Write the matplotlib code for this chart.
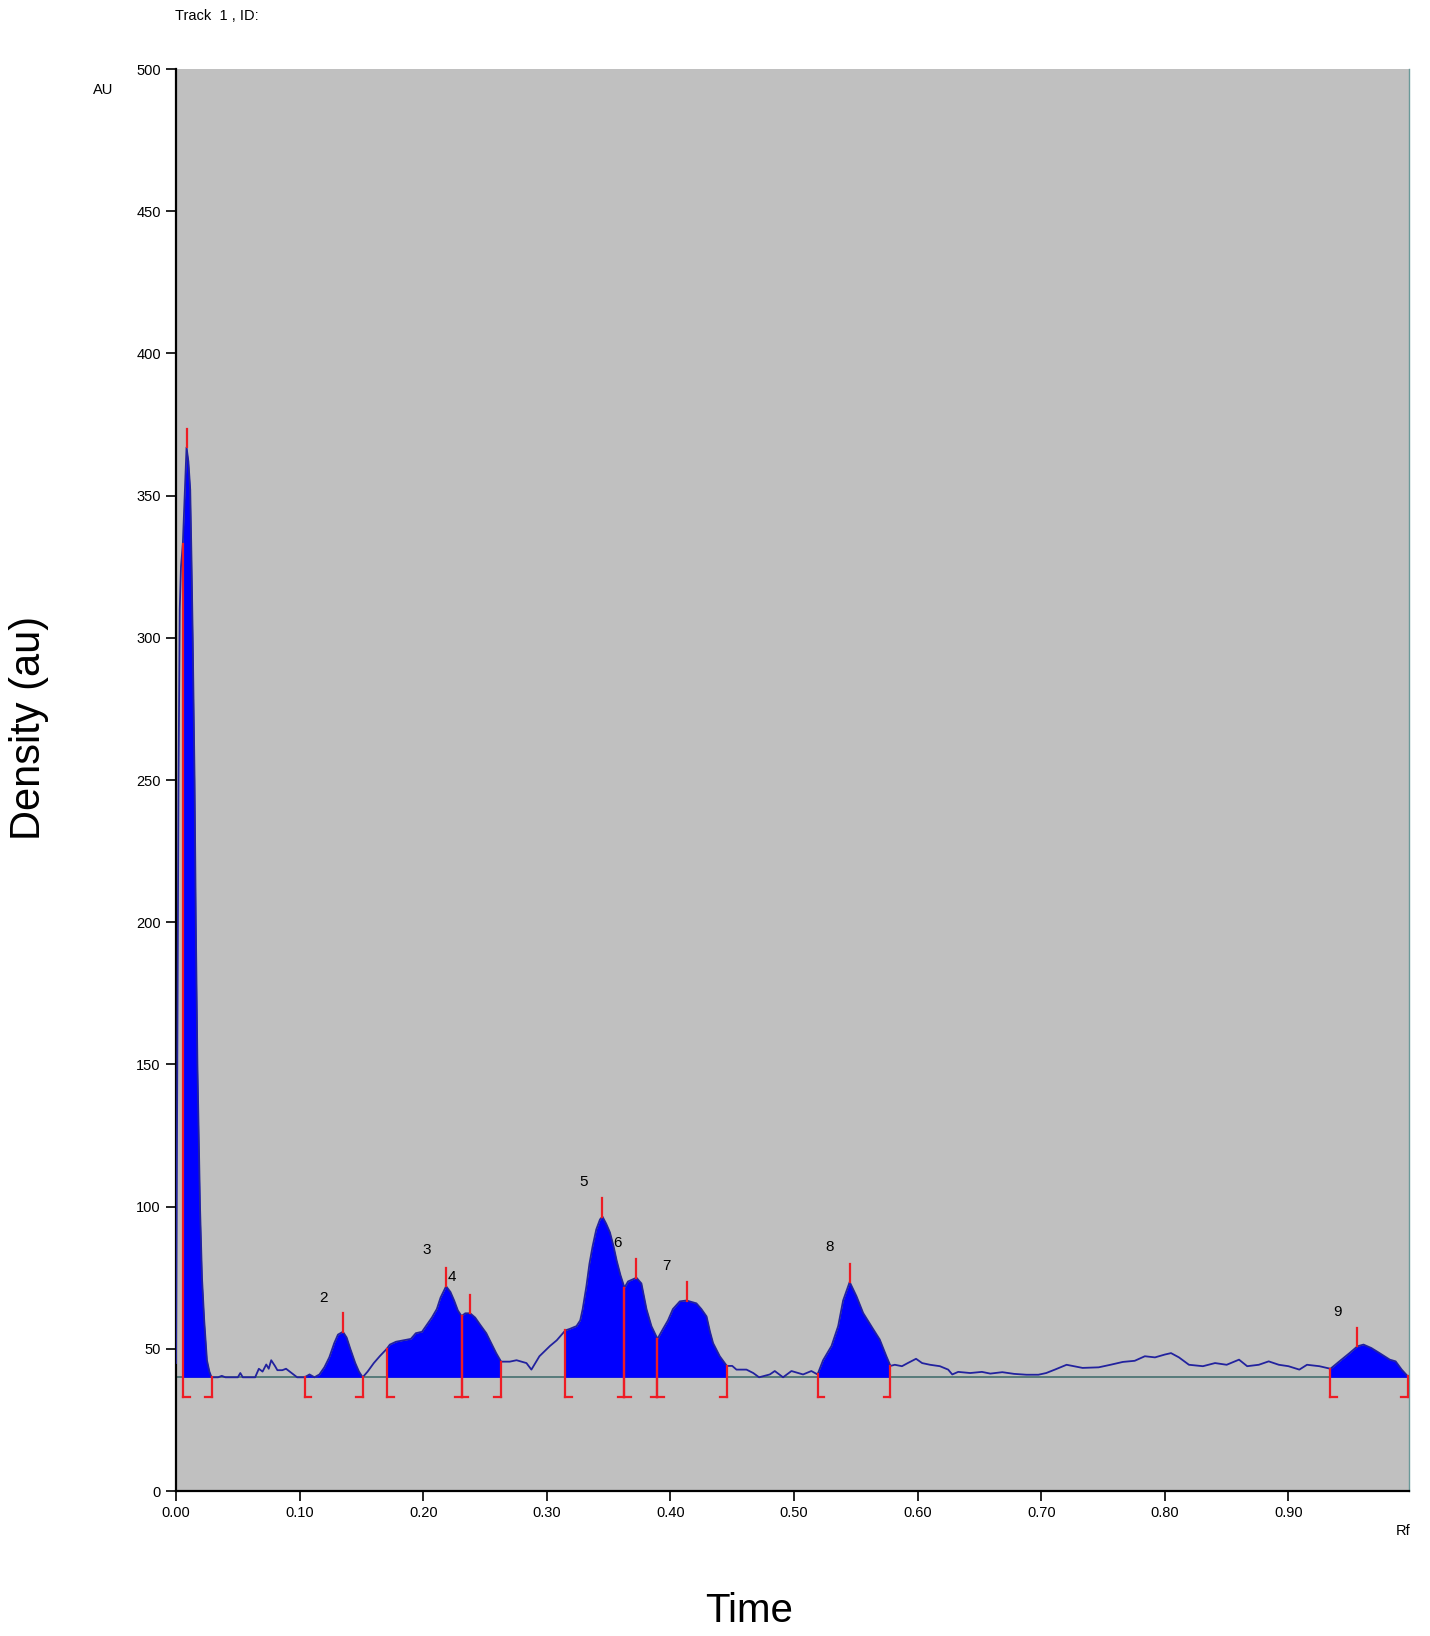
"""
plot.py

Densitometry scan of one TLC track: the blue trace is the density read
along the plate (Rf), the filled parts are the integrated peaks, red
brackets mark the integration limits and red ticks mark each maximum.
"""

import numpy as np
import matplotlib
matplotlib.use("Agg")
import matplotlib.pyplot as plt

plt.rcParams["font.family"] = ["Liberation Sans", "DejaVu Sans"]

# ---------------------------------------------------------------------------
# Data
# ---------------------------------------------------------------------------

RF = [
    0.000, 0.001, 0.002, 0.003, 0.004, 0.0055, 0.007, 0.0085, 0.010, 0.0115,
    0.0125, 0.0135, 0.015, 0.016, 0.0173, 0.0194, 0.021, 0.0228, 0.025, 0.027,
    0.0287, 0.034, 0.037, 0.040, 0.050, 0.052, 0.054, 0.064, 0.067, 0.070,
    0.073, 0.075, 0.077, 0.080, 0.082, 0.086, 0.089, 0.092, 0.095, 0.098,
    0.104, 0.108, 0.112, 0.116, 0.120, 0.124, 0.128, 0.131, 0.135, 0.138,
    0.141, 0.145, 0.148, 0.151, 0.155, 0.160, 0.165, 0.1705, 0.173, 0.178,
    0.184, 0.190, 0.194, 0.199, 0.203, 0.207, 0.211, 0.214, 0.2185, 0.222,
    0.225, 0.228, 0.231, 0.234, 0.238, 0.242, 0.246, 0.251, 0.255, 0.259,
    0.263, 0.270, 0.2755, 0.2835, 0.2875, 0.294, 0.3025, 0.308, 0.312, 0.315,
    0.3185, 0.324, 0.327, 0.329, 0.332, 0.3345, 0.337, 0.340, 0.343, 0.345,
    0.348, 0.351, 0.354, 0.3565, 0.3595, 0.3628, 0.3657, 0.3725, 0.3765, 0.3806,
    0.3846, 0.3895, 0.394, 0.398, 0.402, 0.4076, 0.413, 0.417, 0.421, 0.425,
    0.4292, 0.432, 0.4345, 0.4399, 0.4456, 0.450, 0.4534, 0.4615, 0.467, 0.4717,
    0.4804, 0.4844, 0.4911, 0.4979, 0.5073, 0.514, 0.519, 0.5235, 0.5303, 0.5357,
    0.5397, 0.545, 0.5505, 0.5559, 0.5639, 0.5693, 0.5747, 0.578, 0.5815, 0.5873,
    0.592, 0.5987, 0.6036, 0.610, 0.618, 0.6247, 0.628, 0.6328, 0.6425, 0.652,
    0.6588, 0.6685, 0.678, 0.688, 0.6977, 0.704, 0.711, 0.7205, 0.7334, 0.7464,
    0.756, 0.766, 0.7756, 0.7838, 0.792, 0.800, 0.805, 0.8114, 0.8195, 0.8308,
    0.8406, 0.850, 0.860, 0.8666, 0.876, 0.884, 0.8922, 0.900, 0.9088, 0.915,
    0.925, 0.934, 0.9412, 0.9494, 0.9558, 0.9607, 0.967, 0.9737, 0.982, 0.9867,
    0.9916, 0.9964,
]

DENSITY = [
    45, 150, 250, 310, 325, 333, 350, 367, 362, 352,
    328, 300, 250, 200, 150, 100, 75, 60, 46, 42,
    40, 40, 40.5, 40, 40, 41.5, 40, 40, 43, 42,
    44.5, 43, 46, 44, 42.5, 42.5, 43, 42, 41, 40,
    40, 41, 40, 41, 43.5, 47, 52, 55, 56, 54,
    50, 45, 42, 40, 42, 45, 47.5, 50, 51.5, 52.5,
    53, 53.5, 55.5, 56, 58.5, 61, 64, 68, 72, 70,
    67, 63.5, 61.5, 62.5, 62.5, 61, 58.5, 55.5, 52, 48.5,
    45.5, 45.5, 46, 45, 42.7, 47.4, 51, 53, 55, 56.5,
    57, 58, 60, 64, 72, 80, 86, 92, 95.5, 96.5,
    94, 91, 86, 81, 76, 71.5, 73.7, 75, 73, 64,
    58, 53.5, 57, 60, 64, 66.7, 67, 66.5, 66, 64,
    61.4, 56, 52, 47.4, 44, 44, 42.7, 42.7, 41.5, 40,
    41, 42.2, 40, 42.2, 41, 42.2, 41, 46, 51, 58,
    67, 73.5, 68.5, 62.6, 57, 53.3, 47.4, 44, 44.4, 43.9,
    45, 46.5, 45, 44.4, 43.9, 42.7, 41, 41.9, 41.5, 41.9,
    41.3, 41.8, 41.2, 40.9, 40.9, 41.5, 42.7, 44.4, 43.3, 43.5,
    44.4, 45.4, 45.8, 47.4, 47, 48, 48.5, 47, 44.4, 43.9,
    45, 44.4, 46.2, 43.9, 44.4, 45.6, 44.4, 43.9, 42.7, 44.4,
    43.9, 43, 45.6, 48.5, 50.9, 51.5, 50.3, 48.5, 46.2, 45.6,
    42.7, 40.4,
]

BASELINE = 40

# Integration limits of each peak (start, end) and the Rf of its maximum
PEAK_START = [0.0055, 0.104, 0.1705, 0.231, 0.315, 0.3628, 0.3895, 0.519, 0.934]
PEAK_END = [0.0287, 0.151, 0.231, 0.263, 0.3628, 0.3895, 0.4456, 0.578, 0.9964]
PEAK_MAX_RF = [0.0085, 0.135, 0.2185, 0.238, 0.345, 0.3725, 0.413, 0.545, 0.9558]

# Peak numbers written on the plot (peak 1 carries none)
LABELS = ["2", "3", "4", "5", "6", "7", "8", "9"]
LABEL_RF = [0.119, 0.2025, 0.223, 0.330, 0.357, 0.397, 0.529, 0.940]
LABEL_AU = [68, 84.7, 75.1, 108.5, 87.2, 79.2, 85.8, 63]

Y_TICKS = list(range(0, 501, 50))
X_TICKS = [0.0, 0.1, 0.2, 0.3, 0.4, 0.5, 0.6, 0.7, 0.8, 0.9]

# ---------------------------------------------------------------------------
# Styling
# ---------------------------------------------------------------------------

PLATE_GREY = "#c0c0c0"
FILL_BLUE = "#0000ff"
TRACE_BLUE = "#22229e"
BASELINE_COLOR = "#4f7575"
MARK_RED = "#ee1c24"

BRACKET_BOTTOM = 33      # AU, where the bracket feet sit
BRACKET_FOOT = 0.0055    # Rf, foot length
MAX_TICK = 6.5           # AU, height of the red tick above a maximum


def plot_scan(save_path: str = "out.png") -> None:
    rf = np.array(RF)
    au = np.array(DENSITY)

    fig = plt.figure(figsize=(14.3, 16.36), dpi=100)
    ax = fig.add_axes([0.1231, 0.0886, 0.8622, 0.8692])
    ax.set_facecolor(PLATE_GREY)

    # baseline under everything
    ax.axhline(BASELINE, color=BASELINE_COLOR, linewidth=1.3, zorder=1)

    # integrated areas
    for start, end in zip(PEAK_START, PEAK_END):
        inside = (rf >= start - 1e-9) & (rf <= end + 1e-9)
        ax.fill_between(rf[inside], BASELINE, au[inside],
                        color=FILL_BLUE, linewidth=0, zorder=2)

    # raw trace, on top so the fills get a dark edge
    ax.plot(rf, au, color=TRACE_BLUE, linewidth=1.3, zorder=3)

    # integration brackets: "[" at a start, "]" at an end
    for start, end in zip(PEAK_START, PEAK_END):
        for x, side in ((start, 1), (end, -1)):
            top = np.interp(x, rf, au)
            ax.plot([x, x], [BRACKET_BOTTOM, top], color=MARK_RED,
                    linewidth=1.6, zorder=4)
            ax.plot([x, x + side * BRACKET_FOOT], [BRACKET_BOTTOM, BRACKET_BOTTOM],
                    color=MARK_RED, linewidth=1.6, zorder=4)

    # maxima ticks
    for x in PEAK_MAX_RF:
        top = np.interp(x, rf, au)
        ax.plot([x, x], [top, top + MAX_TICK], color=MARK_RED,
                linewidth=1.6, zorder=4)

    for text, x, y in zip(LABELS, LABEL_RF, LABEL_AU):
        ax.text(x, y, text, fontsize=11, ha="center", va="center", zorder=5)

    ax.set_xlim(0, 0.9975)
    ax.set_ylim(0, 500)
    ax.set_yticks(Y_TICKS)
    ax.set_xticks(X_TICKS)
    ax.set_xticklabels([f"{t:.2f}" for t in X_TICKS])
    ax.tick_params(axis="both", direction="out", length=7, width=1.2,
                   labelsize=10.5, pad=4)

    ax.spines["top"].set_visible(False)
    ax.spines["right"].set_color("#6a9999")
    ax.spines["right"].set_linewidth(1.0)
    for side in ("left", "bottom"):
        ax.spines[side].set_linewidth(1.6)
        ax.spines[side].set_color("black")

    # instrument-style captions
    fig.text(0.1224, 0.990, "Track  1 , ID:", fontsize=10.5, va="center")
    fig.text(0.072, 0.945, "AU", fontsize=10.5, ha="center", va="center")
    fig.text(0.981, 0.0642, "Rf", fontsize=10.5, ha="center", va="center")

    # outer axis titles
    fig.text(0.0203, 0.555, "Density (au)", fontsize=30, rotation=90,
             ha="center", va="center")
    fig.text(0.524, 0.0153, "Time", fontsize=29, ha="center", va="center")

    fig.savefig(save_path, dpi=100, facecolor="white")


if __name__ == "__main__":
    plot_scan()
